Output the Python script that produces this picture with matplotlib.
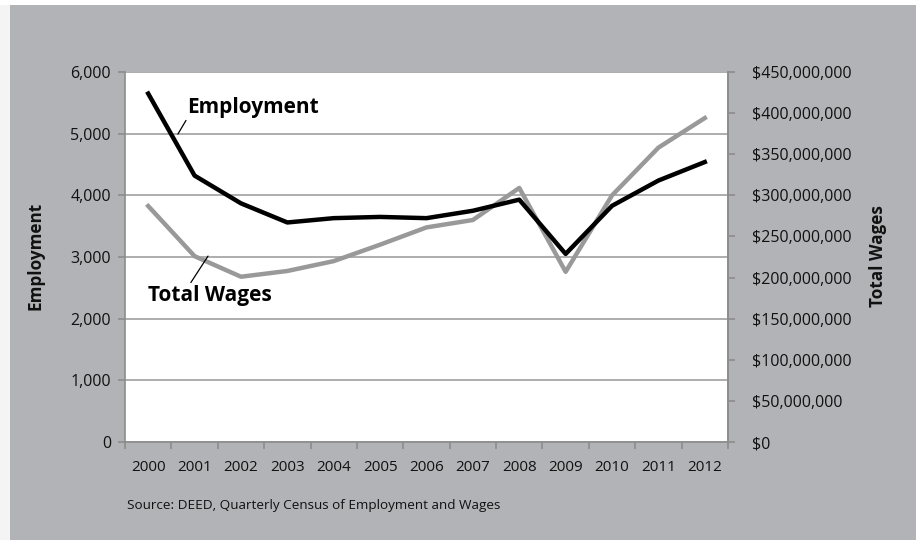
import matplotlib
matplotlib.use("Agg")
import matplotlib.pyplot as plt
import numpy as np
from matplotlib.patches import Rectangle
from matplotlib.ticker import FuncFormatter, MultipleLocator

years = ["2000", "2001", "2002", "2003", "2004", "2005", "2006",
         "2007", "2008", "2009", "2010", "2011", "2012"]
employment = [5650, 4320, 3870, 3560, 3630, 3650, 3630, 3750, 3930, 3050, 3830, 4240, 4540]
total_wages = [287e6, 226e6, 201e6, 208e6, 220e6, 240e6, 261e6, 270e6, 309e6, 207e6, 300e6, 358e6, 394e6]

plt.rcParams['font.family'] = ['Open Sans', 'DejaVu Sans']

W, H = 916, 540
fig = plt.figure(figsize=(W / 100, H / 100), dpi=100)
fig.patch.set_facecolor('white')

bg = '#b1b3b6'
fig.add_artist(Rectangle((10 / W, 0), 1 - 10 / W, 1 - 5 / H, transform=fig.transFigure,
                         facecolor=bg, edgecolor='none', zorder=0))
fig.add_artist(Rectangle((0, 0), 10 / W, 1 - 5 / H, transform=fig.transFigure,
                         facecolor='#f4f4f4', edgecolor='none', zorder=0))

left, right, top, bottom = 125, 728, 72, 442
ax = fig.add_axes([left / W, 1 - bottom / H, (right - left) / W, (bottom - top) / H])
ax.set_facecolor('white')

x = np.arange(len(years))
spine_c = '#8c8c8c'
grid_c = '#a0a0a0'
tick_fs = 11.5

ax.set_xlim(-0.5, len(years) - 0.5)
ax.set_ylim(0, 6000)
ax.yaxis.set_major_locator(MultipleLocator(1000))
ax.yaxis.set_major_formatter(FuncFormatter(lambda v, p: f"{int(v):,}"))
ax.grid(axis='y', color=grid_c, linewidth=1.2, zorder=1)
ax.set_axisbelow(True)

ax.set_xticks(x)
ax.set_xticklabels(years)
ax.set_xticks(np.arange(-0.5, len(years), 1), minor=True)
ax.tick_params(axis='x', which='major', length=0, pad=13, labelsize=11, colors='#111111')
ax.tick_params(axis='x', which='minor', length=5, width=1.2, color=spine_c, direction='out')
ax.tick_params(axis='y', length=5, width=1.2, color=spine_c, labelsize=tick_fs,
               labelcolor='#111111', pad=5)

ax.spines['top'].set_visible(False)
for s in ['left', 'right', 'bottom']:
    ax.spines[s].set_color(spine_c)
    ax.spines[s].set_linewidth(1.2)

ax2 = ax.twinx()
ax2.set_ylim(0, 450e6)
ax2.yaxis.set_major_locator(MultipleLocator(50e6))
ax2.yaxis.set_major_formatter(FuncFormatter(lambda v, p: f"${int(round(v)):,}"))
ax2.tick_params(axis='y', length=5, width=1.2, color=spine_c, labelsize=tick_fs,
                labelcolor='#111111', pad=12)
for s in ['top', 'left', 'bottom']:
    ax2.spines[s].set_visible(False)
ax2.spines['right'].set_color(spine_c)
ax2.spines['right'].set_linewidth(1.2)

ax2.plot(x, total_wages, color='#999999', linewidth=3.2, zorder=3)
ax2.plot(x, employment, color='black', linewidth=3.2, zorder=4, transform=ax.transData)

# annotations
ax2.annotate("Employment", xy=(0.64, 4993), xycoords=ax.transData,
             xytext=(0.85, 5430), textcoords=ax.transData,
             fontsize=15, fontweight='bold', color='black', ha='left', va='center',
             arrowprops=dict(arrowstyle='-', color='black', lw=0.9, shrinkA=0, shrinkB=0,
                             relpos=(0.0, 0.0)))
ax2.annotate("Total Wages", xy=(1.29, 3015), xycoords=ax.transData,
             xytext=(0.0, 2370), textcoords=ax.transData,
             fontsize=15, fontweight='bold', color='black', ha='left', va='center',
             arrowprops=dict(arrowstyle='-', color='black', lw=0.9, shrinkA=0, shrinkB=0,
                             relpos=(0.33, 1.0)))

fig.text(35 / W, 1 - 256 / H, "Employment", rotation=90, fontsize=12.3, fontweight='bold',
         ha='center', va='center', color='#111111')
fig.text(878 / W, 1 - 256 / H, "Total Wages", rotation=90, fontsize=12.3, fontweight='bold',
         ha='center', va='center', color='#111111')
fig.text(127 / W, 1 - 505 / H, "Source: DEED, Quarterly Census of Employment and Wages",
         fontsize=9.7, ha='left', va='center', color='#111111')

fig.savefig("out.png", dpi=100, facecolor=fig.get_facecolor())
